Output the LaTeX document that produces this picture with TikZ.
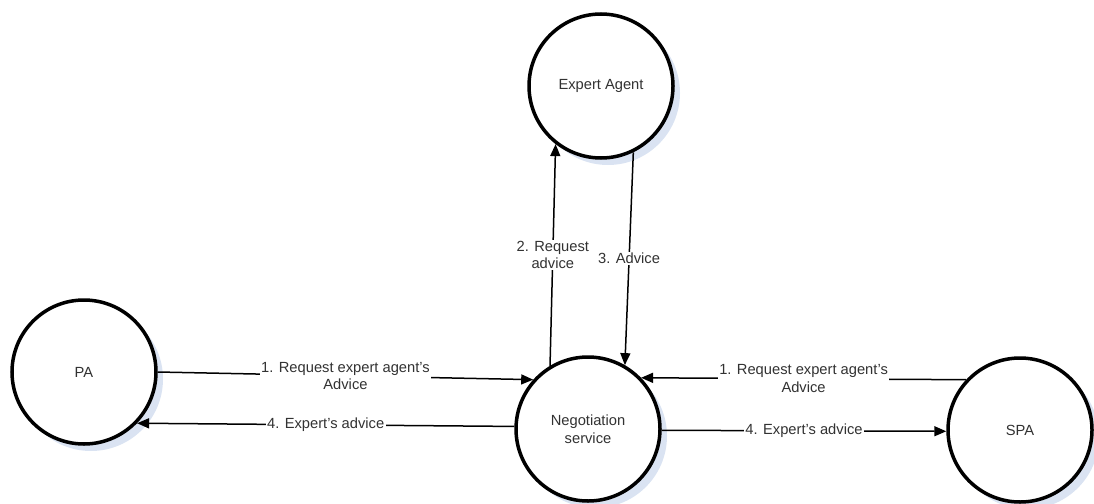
\documentclass[tikz,border=0pt]{standalone}
\usepackage{fontspec}
\setmainfont{Liberation Sans}
\usetikzlibrary{arrows.meta,shadows}
\definecolor{shadowblue}{RGB}{218,227,242}
\definecolor{txtgrey}{RGB}{50,50,50}
\begin{document}
\begin{tikzpicture}[x=1pt,y=-1pt,
  agent/.style={circle, draw=black, line width=3.5pt, fill=white,
    minimum size=144pt, inner sep=0pt, align=center, text=txtgrey,
    font=\fontsize{14.7}{17.5}\selectfont,
    drop shadow={shadow xshift=7pt, shadow yshift=-7pt, fill=shadowblue, opacity=1}},
  flow/.style={line width=1.5pt, -{Triangle[length=12pt,width=10pt]}},
  lbl/.style={fill=white, inner xsep=1.5pt, inner ysep=1pt, align=center,
    text=txtgrey, font=\fontsize{14.7}{17.5}\selectfont}]
  \useasboundingbox (0,0) rectangle (1094,503);

  % agents
  \node[agent] (pa)  at (84,372)  {PA};
  \node[agent] (ea)  at (601,86)  {Expert Agent};
  \node[agent] (ns)  at (588,429) {Negotiation\\service};
  \node[agent] (spa) at (1020,430) {SPA};

  % message flows
  \draw[flow] (pa.east) -- node[lbl] {1. Request expert agent's\\Advice} (ns.138);
  \draw[flow] (ns.178) -- node[lbl] {4. Expert's advice} (pa.-44);
  \draw[flow] (spa.137) -- node[lbl] {1. Request expert agent's\\Advice} (ns.44);
  \draw[flow] (ns.-1) -- node[lbl] {4. Expert's advice} (spa.181);
  \draw[flow] (ns.121) -- node[lbl] {2. Request\\advice} (ea.232);
  \draw[flow] (ea.-64) -- node[lbl] {3. Advice} (ns.60);
\end{tikzpicture}
\end{document}
